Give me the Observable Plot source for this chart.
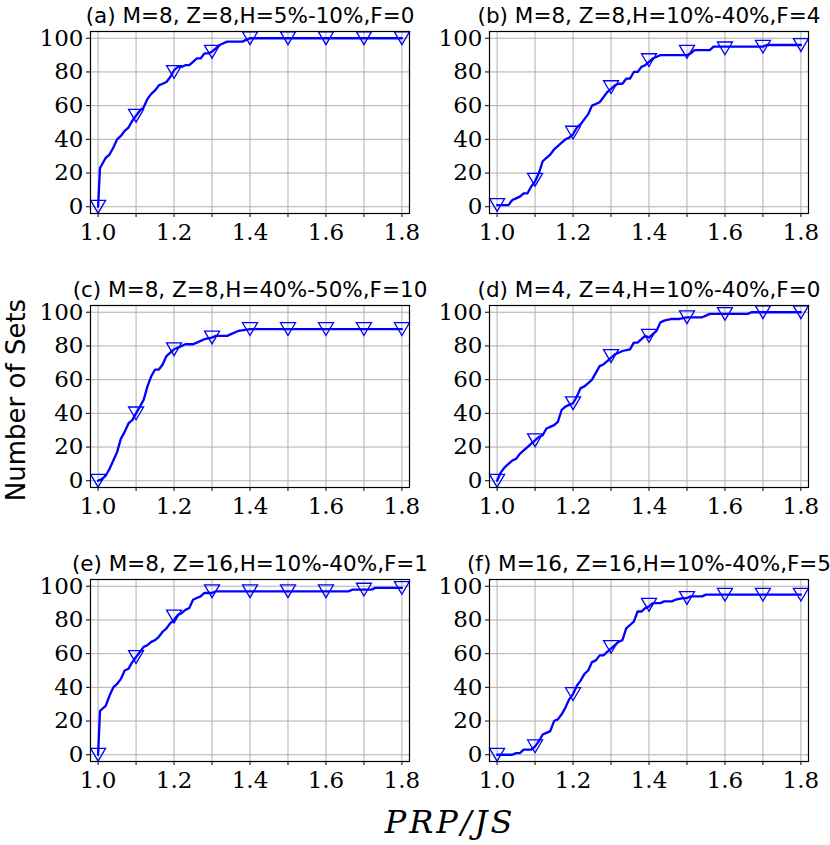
<!DOCTYPE html>
<html>
<head>
<meta charset="utf-8">
<script src="https://cdn.jsdelivr.net/npm/d3@7"></script>
<script src="https://cdn.jsdelivr.net/npm/@observablehq/plot@0.6"></script>
<style>
  html, body { margin: 0; padding: 0; background: white; }
  #chart { position: relative; width: 830px; height: 845px; background: white; overflow: hidden; }
  #chart svg { position: absolute; }
  #chart svg g[aria-label$="tick label"] text,
  #chart svg g[aria-label$="tick label"] { font-family: "DejaVu Serif", serif !important; font-size: 23px !important; font-variant: normal !important; }
  .ylab { position: absolute; left: 16px; top: 400px; transform: translate(-50%, -50%) rotate(-90deg);
          font-family: "DejaVu Sans", sans-serif; font-size: 26px; white-space: nowrap; color: black; }
  .xlab { position: absolute; left: 450px; top: 803px; transform: translateX(-50%);
          font-family: "DejaVu Serif", serif; font-style: italic; font-size: 32px; letter-spacing: 3px; white-space: nowrap; color: black; }
</style>
</head>
<body>
<div id="chart"></div>
<script>
// ---- data ----
const titles = [
  "(a) M=8, Z=8,H=5%-10%,F=0",
  "(b) M=8, Z=8,H=10%-40%,F=4",
  "(c) M=8, Z=8,H=40%-50%,F=10",
  "(d) M=4, Z=4,H=10%-40%,F=0",
  "(e) M=8, Z=16,H=10%-40%,F=1",
  "(f) M=16, Z=16,H=10%-40%,F=5"
];
const xTicks = [1.0, 1.1, 1.2, 1.3, 1.4, 1.5, 1.6, 1.7, 1.8];
const yTicks = [0, 20, 40, 60, 80, 100];
const markerX = [1.0, 1.1, 1.2, 1.3, 1.4, 1.5, 1.6, 1.7, 1.8];

const seriesA = [[1.00,0],[1.005,23],[1.02,29],[1.03,31],[1.04,35],[1.05,40],[1.06,42],[1.07,45],[1.08,47],[1.09,51],[1.10,54],[1.11,57],[1.12,59],[1.13,64],[1.14,67],[1.15,69],[1.16,72],[1.17,73],[1.18,74],[1.19,77],[1.20,81],[1.21,83],[1.22,83],[1.23,84],[1.24,84],[1.25,86],[1.26,88],[1.27,88],[1.28,91],[1.29,91],[1.30,92],[1.31,94],[1.32,96],[1.33,97],[1.34,98],[1.38,98],[1.39,99],[1.40,100],[1.80,100]];
const markersA = [0,54,80,92,100,100,100,100,100];

const seriesB = [[1.00,1],[1.03,1],[1.04,4],[1.05,5],[1.06,6],[1.07,8],[1.08,8],[1.09,12],[1.10,15],[1.11,20],[1.12,27],[1.13,29],[1.14,31],[1.15,34],[1.16,36],[1.17,38],[1.18,40],[1.19,41],[1.20,43],[1.21,47],[1.22,49],[1.23,52],[1.24,55],[1.25,60],[1.26,61],[1.27,62],[1.28,65],[1.29,68],[1.30,70],[1.31,72],[1.32,73],[1.33,73],[1.34,76],[1.35,76],[1.36,80],[1.37,80],[1.38,83],[1.39,84],[1.40,86],[1.41,88],[1.42,89],[1.43,90],[1.50,90],[1.51,91],[1.52,93],[1.56,93],[1.57,95],[1.70,95],[1.71,96],[1.80,96]];
const markersB = [1,16,44,71,87,92,94,95,96];

const seriesC = [[1.00,0],[1.01,1],[1.02,3],[1.03,7],[1.04,12],[1.05,17],[1.06,25],[1.07,29],[1.08,34],[1.09,36],[1.10,40],[1.11,44],[1.12,48],[1.13,56],[1.14,62],[1.15,66],[1.16,66],[1.17,69],[1.18,74],[1.19,76],[1.20,78],[1.21,79],[1.22,80],[1.23,81],[1.25,81],[1.26,82],[1.27,83],[1.28,84],[1.30,85],[1.31,86],[1.34,86],[1.35,87],[1.36,88],[1.37,89],[1.40,90],[1.80,90]];
const markersC = [0,40,78,85,90,90,90,90,90];

const seriesD = [[1.00,0],[1.01,5],[1.02,8],[1.03,10],[1.04,12],[1.05,13],[1.06,16],[1.07,18],[1.08,20],[1.09,22],[1.10,24],[1.11,26],[1.12,27],[1.13,31],[1.14,32],[1.15,33],[1.16,35],[1.17,42],[1.18,44],[1.19,45],[1.20,46],[1.21,50],[1.22,55],[1.23,56],[1.24,58],[1.25,60],[1.26,64],[1.27,68],[1.28,69],[1.29,71],[1.30,73],[1.31,75],[1.32,76],[1.33,77],[1.35,78],[1.36,82],[1.37,82],[1.38,84],[1.39,86],[1.40,85],[1.41,87],[1.42,89],[1.43,94],[1.44,95],[1.46,96],[1.48,96],[1.50,97],[1.54,97],[1.55,98],[1.56,99],[1.66,99],[1.67,100],[1.80,100]];
const markersD = [0,24,46,74,86,97,99,100,100];

const seriesE = [[1.00,0],[1.005,26],[1.01,27],[1.02,29],[1.03,35],[1.04,40],[1.05,42],[1.06,45],[1.07,50],[1.08,51],[1.09,55],[1.10,58],[1.11,61],[1.12,64],[1.13,65],[1.14,67],[1.15,68],[1.16,70],[1.17,73],[1.18,75],[1.19,78],[1.20,80],[1.21,83],[1.22,84],[1.23,86],[1.24,87],[1.25,92],[1.26,93],[1.27,94],[1.28,96],[1.30,96],[1.31,97],[1.66,97],[1.67,98],[1.72,98],[1.73,99],[1.80,99]];
const markersE = [0,58,82,97,97,97,97,98,99];

const seriesF = [[1.00,0],[1.04,0],[1.05,1],[1.06,1],[1.07,3],[1.09,3],[1.10,5],[1.11,8],[1.12,12],[1.13,13],[1.14,14],[1.15,20],[1.16,21],[1.17,24],[1.18,28],[1.19,33],[1.20,36],[1.21,41],[1.22,44],[1.23,48],[1.24,50],[1.25,55],[1.26,56],[1.27,59],[1.28,59],[1.29,61],[1.30,63],[1.31,65],[1.32,67],[1.33,68],[1.34,75],[1.35,77],[1.36,79],[1.37,85],[1.38,85],[1.39,87],[1.40,88],[1.41,90],[1.43,90],[1.44,91],[1.46,91],[1.47,92],[1.49,93],[1.50,93],[1.51,94],[1.54,94],[1.55,95],[1.80,95]];
const markersF = [0,5,36,64,89,93,95,95,95];

const allSeries = [seriesA, seriesB, seriesC, seriesD, seriesE, seriesF];
const allMarkers = [markersA, markersB, markersC, markersD, markersE, markersF];

// ---- drawing ----
const BLUE = "#0000ff";
const SERIF = "DejaVu Serif";
const triDown = {
  draw(ctx, size) {
    const r = Math.sqrt(size / Math.PI);
    const h = r * 0.85;
    ctx.moveTo(-r, -h);
    ctx.lineTo(r, -h);
    ctx.lineTo(0, h);
    ctx.closePath();
  }
};

const chart = document.getElementById("chart");
const W = 410, H = 274;

for (let i = 0; i < 6; i++) {
  const col = i % 2, row = Math.floor(i / 2);
  const left = col === 0 ? 0 : 400;
  const top = row * 274;
  const series = allSeries[i];
  const marks = markerX.map((x, k) => ({x, y: allMarkers[i][k]}));
  const svg = Plot.plot({
    width: W,
    height: H,
    marginLeft: col === 0 ? 90 : 89,
    marginRight: col === 0 ? 1 : 2,
    marginTop: 31,
    marginBottom: 61,
    style: {background: "transparent", overflow: "visible", fontSize: "23px", color: "black"},
    x: {domain: [0.98, 1.82]},
    y: {domain: [-4, 104]},
    marks: [
      Plot.gridX(xTicks, {stroke: "#b0b0b0", strokeOpacity: 1, strokeWidth: 1}),
      Plot.gridY(yTicks, {stroke: "#b0b0b0", strokeOpacity: 1, strokeWidth: 1}),
      Plot.axisX({ticks: xTicks, tickSize: 4, tickPadding: 6, label: null,
        fontFamily: SERIF, fontSize: 23,
        tickFormat: d => (Math.round(d * 10) % 2 === 0 ? d.toFixed(1) : "")}),
      Plot.axisY({ticks: yTicks, tickSize: 4, tickPadding: 3, label: null,
        fontFamily: SERIF, fontSize: 23, tickFormat: d => String(d)}),
      Plot.line(series, {x: d => d[0], y: d => d[1], stroke: BLUE, strokeWidth: 2.3}),
      Plot.dot(marks, {x: "x", y: "y", symbol: triDown, r: 7.5, stroke: BLUE, fill: "none", strokeWidth: 1.3}),
      Plot.frame({stroke: "black", strokeWidth: 1.2}),
      Plot.text([titles[i]], {frameAnchor: "top", lineAnchor: "bottom", dy: -9,
        fontFamily: "DejaVu Sans", fontSize: 21.5, fill: "black"})
    ]
  });
  svg.style.left = left + "px";
  svg.style.top = top + "px";
  chart.appendChild(svg);
}

const yl = document.createElement("div");
yl.className = "ylab";
yl.textContent = "Number of Sets";
chart.appendChild(yl);

const xl = document.createElement("div");
xl.className = "xlab";
xl.textContent = "PRP/JS";
chart.appendChild(xl);
</script>
</body>
</html>
